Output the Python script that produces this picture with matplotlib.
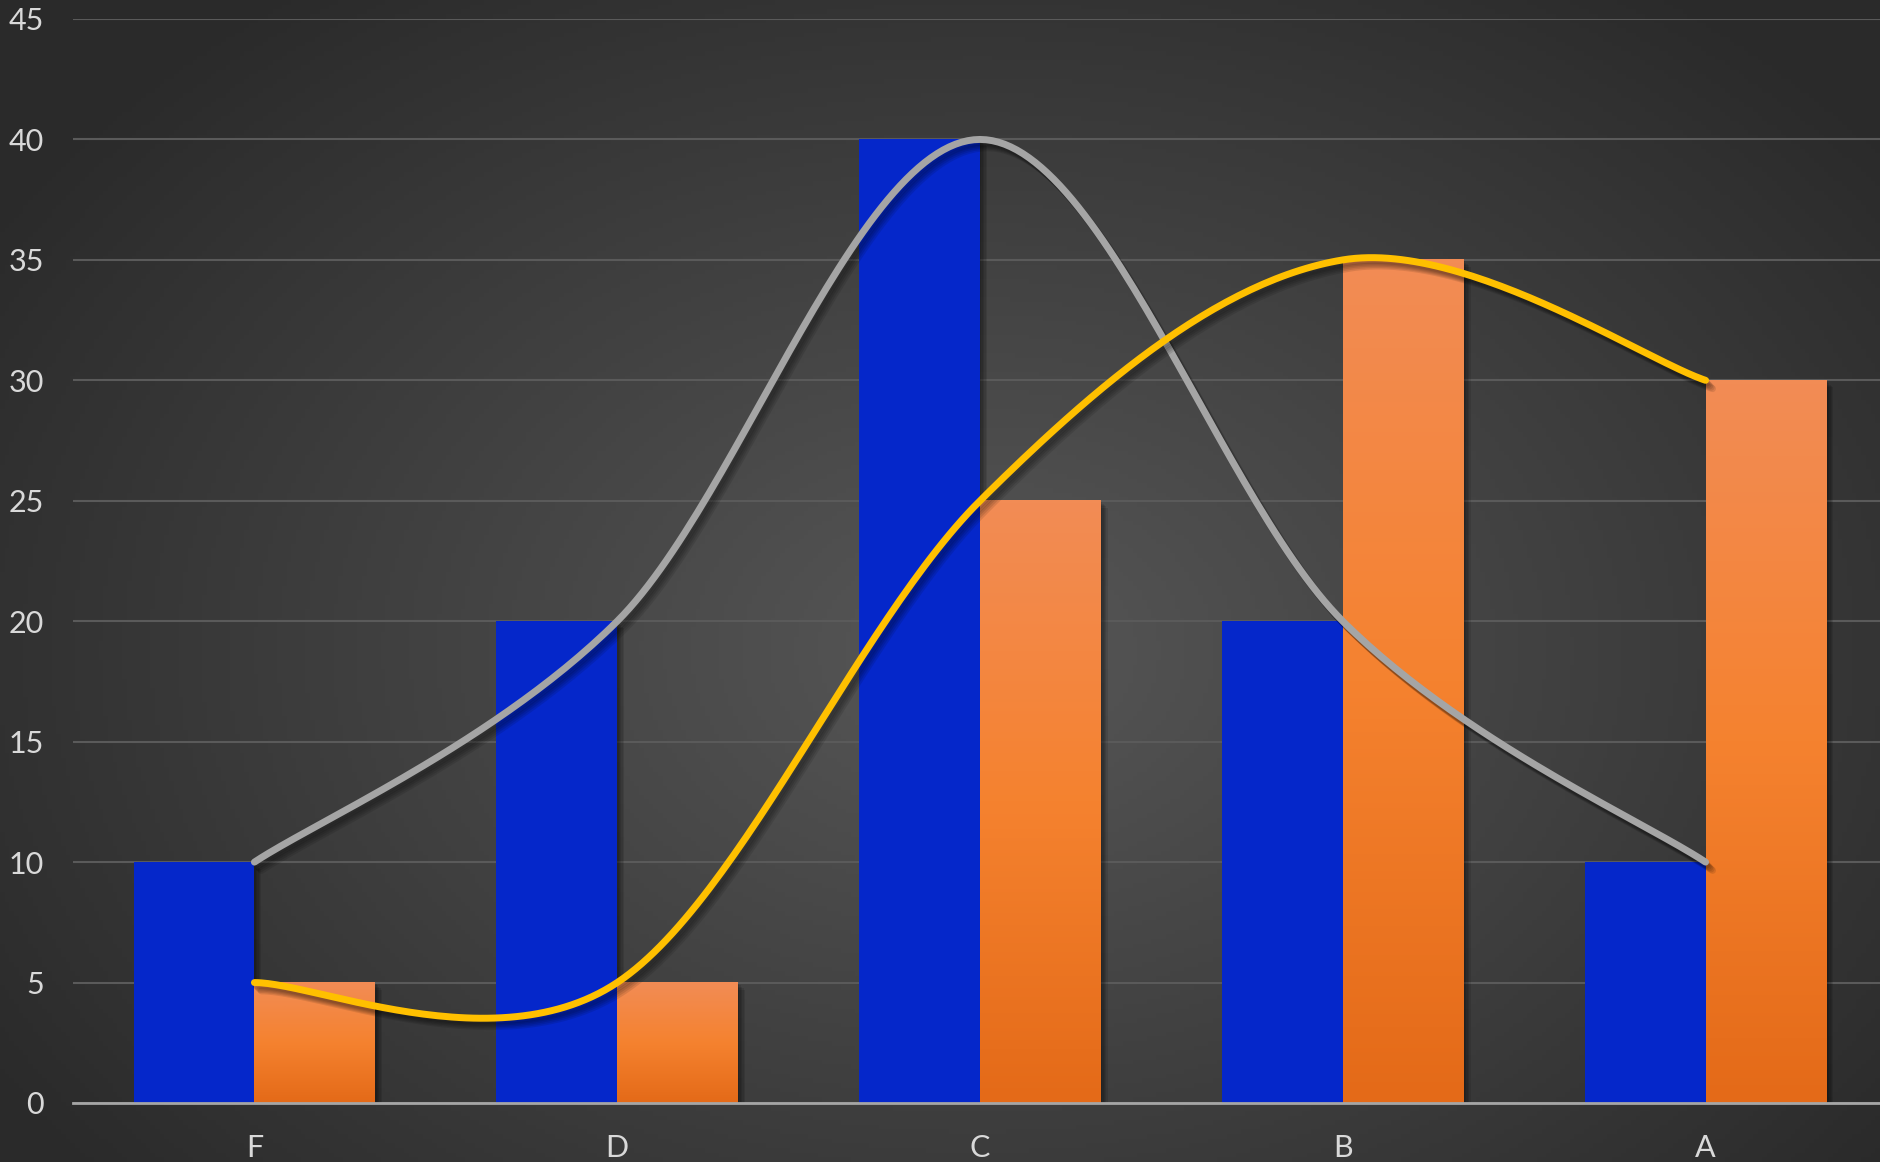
import numpy as np
import matplotlib.pyplot as plt
import matplotlib.patheffects as pe
from matplotlib.colors import LinearSegmentedColormap

# datos
categorias = ['F', 'D', 'C', 'B', 'A']
serie_azul = [10, 20, 40, 20, 10]
serie_naranja = [5, 5, 25, 35, 30]
linea_gris = [10, 20, 40, 20, 10]
linea_amarilla = [5, 5, 25, 35, 30]
yticks = [0, 5, 10, 15, 20, 25, 30, 35, 40, 45]

plt.rcParams['font.family'] = ['Lato', 'DejaVu Sans']


def suavizar(xs, ys, n=60):
    # curva tipo Excel (Bezier Catmull-Rom)
    p = np.column_stack([xs, ys]).astype(float)
    p = np.vstack([p[0], p, p[-1]])
    out = []
    for i in range(1, len(p) - 2):
        p0, p1, p2, p3 = p[i - 1], p[i], p[i + 1], p[i + 2]
        c1 = p1 + (p2 - p0) / 6
        c2 = p2 - (p3 - p1) / 6
        t = np.linspace(0, 1, n)[:, None]
        b = ((1 - t) ** 3) * p1 + 3 * ((1 - t) ** 2) * t * c1 + 3 * (1 - t) * t ** 2 * c2 + t ** 3 * p2
        out.append(b if i == 1 else b[1:])
    b = np.vstack(out)
    return b[:, 0], b[:, 1]


fig = plt.figure(figsize=(18.8, 11.62), dpi=100)

# fondo con degradado radial
bg = fig.add_axes([0, 0, 1, 1], zorder=-10)
gx, gy = np.meshgrid(np.linspace(0, 1, 400), np.linspace(0, 1, 250))
r = np.sqrt(((gx - 0.52) / 0.62) ** 2 + ((gy - 0.56) / 0.72) ** 2)
r = np.clip(r, 0, 1)
cmap_bg = LinearSegmentedColormap.from_list('bg', ['#575757', '#2a2a2a'])
bg.imshow(r, cmap=cmap_bg, extent=[0, 1, 0, 1], origin='upper', aspect='auto', vmin=0, vmax=1)
bg.axis('off')

ax = fig.add_axes([73 / 1880, 1 - 1103 / 1162, 1814 / 1880, (1103 - 19) / 1162])
ax.patch.set_alpha(0)

x = np.arange(len(categorias))
w = 0.333

# sombras suaves (varias capas)
sombra = [pe.SimplePatchShadow(offset=(k, -k), shadow_rgbFace='black', alpha=0.1) for k in (1, 2, 3, 4, 5)]
sombra.append(pe.Normal())

ax.bar(x - w / 2, serie_azul, w, color='#0527CA', zorder=3, path_effects=sombra)
barras = ax.bar(x + w / 2, serie_naranja, w, color='#EF7B3A', zorder=3, path_effects=sombra)

# degradado en barras naranjas
cmap_or = LinearSegmentedColormap.from_list('or', ['#F28C55', '#F5822F', '#E46A18'])
grad = np.linspace(0, 1, 200)[:, None]
for b in barras:
    ax.imshow(grad, cmap=cmap_or, aspect='auto', zorder=3.5,
              extent=[b.get_x(), b.get_x() + b.get_width(), 0, b.get_height()])

sombra_l = [pe.SimpleLineShadow(offset=(k, -k - 1), shadow_color='black', alpha=0.1) for k in (1, 2, 3, 4, 5)]
sombra_l.append(pe.Normal())
sx, sy = suavizar(x, linea_gris)
ax.plot(sx, sy, color='#A5A5A5', lw=5, zorder=5, solid_capstyle='round', path_effects=sombra_l)
sx, sy = suavizar(x, linea_amarilla)
ax.plot(sx, sy, color='#FFC000', lw=5, zorder=6, solid_capstyle='round', path_effects=sombra_l)

ax.set_xlim(-0.5, 4.5)
ax.set_ylim(0, 45)
ax.set_yticks(yticks)
ax.set_xticks(x)
ax.set_xticklabels(categorias)
ax.grid(axis='y', color='#5a5a5a', lw=1.5, zorder=0)
ax.set_axisbelow(True)
for s in ['top', 'right', 'left']:
    ax.spines[s].set_visible(False)
ax.spines['bottom'].set_color('#a6a6a6')
ax.spines['bottom'].set_linewidth(2)
ax.spines['bottom'].set_zorder(7)
ax.tick_params(axis='both', length=0, labelsize=22, colors='#d9d9d9')
ax.tick_params(axis='y', pad=21)
ax.tick_params(axis='x', pad=22)

fig.savefig('out.png', dpi=100)
